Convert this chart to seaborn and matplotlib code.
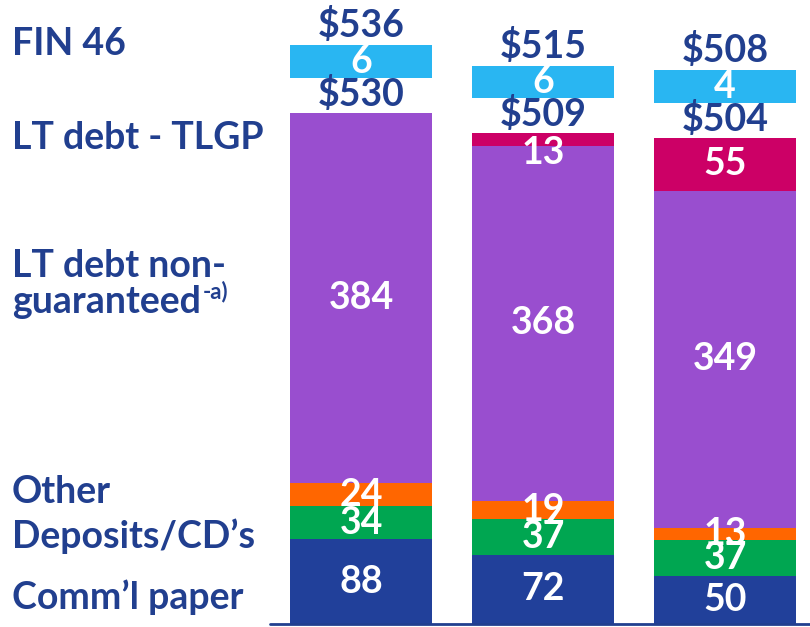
import pandas as pd
import matplotlib.pyplot as plt
import seaborn as sns

# data (billions)
periods = ['Period 1', 'Period 2', 'Period 3']
comm_paper = [88, 72, 50]
deposits = [34, 37, 37]
other = [24, 19, 13]
lt_nonguar = [384, 368, 349]
lt_tlgp = [0, 13, 55]
fin46 = [6, 6, 4]

layers = ['Comm’l paper', 'Deposits/CD’s', 'Other', 'LT debt non-guaranteed', 'LT debt - TLGP']
values = [comm_paper, deposits, other, lt_nonguar, lt_tlgp]
colors = ['#21409A', '#00A651', '#FF6600', '#994ECF', '#CC0066']
fin_color = '#29B6F2'
navy = '#213F8F'

df = pd.DataFrame(dict(zip(layers, values)), index=periods)
cum = df.cumsum(axis=1)
bottoms = cum.shift(1, axis=1).fillna(0)
totals = cum[layers[-1]]

sns.set_style('white')
plt.rcParams['font.family'] = ['Lato', 'DejaVu Sans']
plt.rcParams['font.weight'] = 'bold'

fig = plt.figure(figsize=(8.1, 6.27), dpi=100)
ax = fig.add_axes([0, 0, 1, 1])

# stacked bars: overdraw cumulative totals, top layer first
for name, c in reversed(list(zip(layers, colors))):
    sns.barplot(x=periods, y=cum[name].values, color=c, saturation=1,
                width=0.78, linewidth=0, errorbar=None, ax=ax)

# FIN 46 floating boxes above each bar
gap, box_h = 36, 34
fin_bottom = totals.values + gap
ax.bar(range(3), [box_h] * 3, bottom=fin_bottom, width=0.78,
       color=fin_color, linewidth=0)

fs = 27
for i, p in enumerate(periods):
    for j, name in enumerate(layers):
        v = df.loc[p, name]
        if v == 0:
            continue
        if j == len(layers) - 1 and v < 20:
            # thin top segment: hang the label from its top edge
            ax.text(i, cum.loc[p, name] - 3, f'{v}', ha='center', va='top',
                    color='white', fontsize=fs, fontweight='bold')
        else:
            yc = bottoms.loc[p, name] + v / 2
            ax.text(i, yc, f'{v}', ha='center', va='center', color='white',
                    fontsize=fs, fontweight='bold')
    ax.text(i, totals[p] + 1, f'${totals[p]}', ha='center', va='bottom',
            color=navy, fontsize=fs, fontweight='bold')
    ax.text(i, fin_bottom[i] + box_h / 2, f'{fin46[i]}', ha='center',
            va='center', color='white', fontsize=fs, fontweight='bold')
    ax.text(i, fin_bottom[i] + box_h + 2, f'${totals[p] + fin46[i]}',
            ha='center', va='bottom', color=navy, fontsize=fs,
            fontweight='bold')

# baseline
ax.axhline(0, xmin=270 / 810, xmax=1, color=navy, lw=2)

ax.set_xlim(-1.984, 2.467)
ax.set_ylim(-3.1, 647)
ax.axis('off')

# left-hand category labels
left = [('FIN 46', 44), ('LT debt - TLGP', 138), ('LT debt non-', 266),
        ('guaranteed', 302), ('Other', 492), ('Deposits/CD’s', 536),
        ('Comm’l paper', 597)]
handles = {}
for txt, ypx in left:
    handles[txt] = fig.text(12 / 810, 1 - ypx / 627, txt, ha='left',
                            va='center', color=navy, fontsize=fs,
                            fontweight='bold')

fig.canvas.draw()
bb = handles['guaranteed'].get_window_extent()
fig.text((bb.x1 + 2) / 810, 1 - 292 / 627, '-a)', ha='left', va='center',
         color=navy, fontsize=16, fontweight='bold')

plt.savefig('out.png', dpi=100)
